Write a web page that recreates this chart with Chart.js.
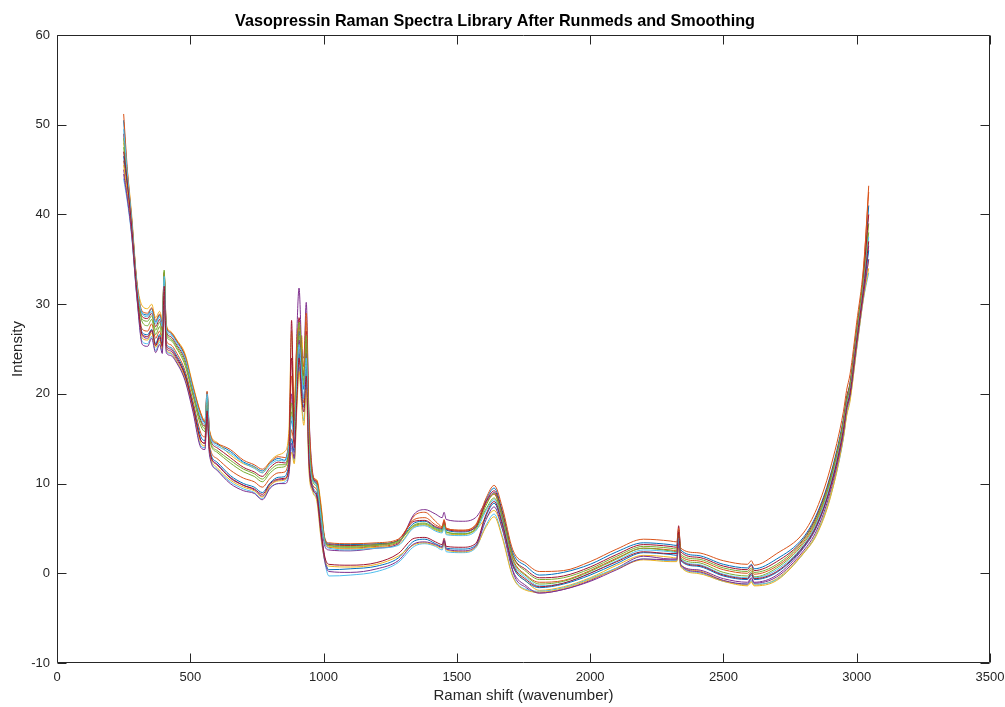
<!DOCTYPE html>
<html><head><meta charset="utf-8">
<script src="https://cdn.jsdelivr.net/npm/chart.js@4"></script>
<style>html,body{margin:0;padding:0;background:#fff}#wrap{width:1005px;height:707px}</style>
</head><body><div id="wrap"><canvas id="c" width="1005" height="707"></canvas></div>
<script>
const wavenumbers = [250,265,280,300,320,340,355,370,385,395,402,410,425,450,480,510,540,555,563,572,600,650,700,740,770,800,830,855,870,880,890,900,908,918,926,935,945,960,975,990,1005,1020,1100,1200,1280,1340,1380,1420,1445,1452,1460,1520,1570,1610,1640,1670,1710,1760,1810,1900,2000,2100,2200,2300,2325,2332,2340,2400,2500,2590,2605,2615,2700,2800,2850,2900,2950,2962,2975,3000,3025,3045];

const spec01 = [50.5,44,39.5,32.2,29,28.8,29.5,28,28.8,27.8,33.4,27.5,26.8,25.8,24.2,20.7,17.6,16.8,20.2,15.8,14.4,13.6,12.4,11.9,11.4,12.3,12.8,12.6,14.5,17,15.5,23,27,23,20.5,26,15,10.5,10,6.5,3.8,3.3,3.2,3.3,3.6,5.6,5.8,5.1,4.9,5.7,4.8,4.6,5.2,8.2,9.5,7.0,2.3,0.8,-0.2,0.1,1.0,2.4,3.4,3.2,3.1,4.8,2.6,2.0,1.0,0.6,1.0,0.5,1.6,4.0,6.6,10.8,17.2,19.5,21.2,27,32.8,41];
const spec02 = [46,42.5,38.4,31.2,27.2,27,27.8,26.2,27,26,32.2,26,25.5,24.5,22.6,19.2,15.6,15.2,18.8,14.3,12.8,11.5,10.6,10.2,9.6,10.6,11.2,11.3,12.8,16,14.5,21,25,21,19,24,13.5,9.8,9.3,5.8,3.4,2.9,2.8,3.0,3.4,6.4,6.8,5.8,5.2,6.0,5.0,4.8,5.3,7.8,8.8,6.2,1.6,-0.2,-1.0,-0.8,0.3,1.7,2.8,2.6,2.5,4.2,1.9,1.4,0.4,0.0,0.4,-0.1,0.8,3.5,6.0,10.2,16.8,19.0,20.8,26.8,33.5,43.2];
const spec03 = [48,44.5,40,32.5,29.8,29.5,30,28.5,29.2,28.4,33.2,27.8,27,26,24.5,21,17.8,17,19.6,16,14.6,13.2,12.2,11.8,11.2,12.5,13.2,13.6,16,27,19,25,24,26.5,22,28,17,10.8,10.4,7.8,3.6,3.0,2.7,2.9,3.2,5.2,5.4,4.8,4.6,5.3,4.4,4.3,4.8,6.2,7.0,5.0,0.8,-0.9,-1.9,-1.5,-0.5,0.9,2.0,1.8,1.7,3.6,1.0,0.3,-0.8,-1.3,-0.9,-1.3,-0.6,2.3,4.5,8.6,15.2,17.8,19.6,25.2,30.8,35];
const spec04 = [45,42,38,30.8,26.5,26.2,27,25.4,26.2,25.2,31.8,25.2,24.8,23.8,22,18.6,14.8,14.5,18.2,13.8,12.2,10.6,9.8,9.3,8.6,9.8,10.4,10.5,12,20,16,27,31.8,25,24,30.2,18,11,9.8,6.2,3.0,2.6,2.5,2.8,3.3,6.6,7.1,6.6,6.2,6.8,6.0,5.8,6.2,8.0,9.0,6.4,0.2,-1.6,-2.2,-1.8,-0.8,0.6,1.9,1.6,1.6,3.2,0.9,0.4,-0.6,-1.0,-0.5,-1.0,-0.2,2.8,5.2,9.6,16.4,19.2,20.5,26,31.5,36.5];
const spec05 = [47.5,43.5,39,31.8,28,27.6,28.3,26.6,27.5,26.4,33.8,26.6,26,25,23.2,19.8,16.4,15.8,19.2,15,13.5,12.3,11.3,10.8,10.2,11.2,11.8,11.9,13.5,18,16,22.5,26.5,23.5,21,25.5,14.5,10.2,9.6,6.2,3.5,3.1,2.9,3.1,3.5,5.4,5.6,5.0,4.8,5.5,4.6,4.4,5.0,7.2,8.4,6.0,1.4,-0.3,-1.2,-0.9,0.2,1.6,2.8,2.5,2.4,4.0,1.7,1.2,0.1,-0.3,0.2,-0.4,0.6,3.3,5.8,10.0,16.3,18.8,20.4,26.4,32.2,39];
const spec06 = [44,41.2,37.6,30.6,25.8,25.6,26.4,24.8,25.8,24.6,31.2,24.8,24.5,23.5,21.6,18.2,14.2,14.0,17.6,13.4,11.6,10.2,9.4,9.0,8.3,9.6,10.0,10.2,11.2,14,12.5,19,23,19,17,21,12,9.2,8.2,4.2,1.2,-0.3,-0.2,0.2,1.2,3.0,3.3,3.0,2.6,3.4,2.4,2.3,2.8,5.4,6.6,4.2,-0.3,-1.8,-2.0,-1.6,-0.6,0.6,1.6,1.4,1.4,3.0,0.8,0.1,-0.9,-1.2,-0.8,-1.2,-0.7,2.2,4.4,8.4,15,17.6,19.4,25,30.5,33.5];
const spec07 = [49,44,39.2,32,28.6,28.4,29,27.5,28.3,27.2,33,27,26.4,25.4,23.8,20.3,17,16.4,19.8,15.4,14,12.9,11.8,11.3,10.8,11.8,12.4,12.3,14,24,17,24,28.5,24,22,27,16,10.6,10.2,7,3.7,3.2,3.1,3.2,3.7,5.8,5.9,5.2,5.0,5.8,4.9,4.7,5.1,8.0,9.2,6.8,2.0,0.4,-0.5,-0.3,0.7,2.1,3.2,3.0,2.9,5.3,2.4,1.8,0.8,0.4,0.9,0.3,1.3,3.8,6.4,10.6,17,19.6,21.2,27.2,33,40];
const spec08 = [46.5,42.8,38.5,31.3,26.8,26.6,27.2,25.6,26.6,25.5,32.4,25.6,25.2,24.2,22.3,18.8,15.2,14.8,18.4,14,12.4,10.9,10,9.6,9.0,10.1,10.7,10.8,12.2,15,13.5,20,24.5,20,18.5,23,13,9.6,8.8,5.0,1.6,0.4,0.5,0.8,1.7,3.6,3.8,3.3,3.0,3.7,2.8,2.7,3.1,6.4,7.8,5.4,0.8,-0.9,-1.6,-1.2,-0.2,1.1,2.3,2.1,2.0,3.8,1.4,0.8,-0.3,-0.7,-0.2,-0.7,0.1,2.9,5.3,9.4,15.9,18.4,20,25.8,31.4,36];
const spec09 = [51.2,44.6,39.6,32.3,29.2,29,29.6,28.2,28.9,28,33.5,27.6,26.9,25.9,24.3,20.8,17.8,16.9,20.3,15.9,14.5,13.8,12.6,12.1,11.6,12.4,13,12.9,15,22,18,26,27.5,25,23,29,17.5,10.9,10.3,7.5,3.9,3.4,3.3,3.4,3.8,6.0,6.2,5.4,5.1,5.9,5.0,4.8,5.4,8.4,9.8,7.4,2.6,1.1,0.2,0.3,1.3,2.7,3.8,3.6,3.5,5.0,2.8,2.3,1.4,1.0,1.4,0.9,2.2,4.5,7.2,11.6,18,20.4,22.2,28,34,42.5];
const spec10 = [45.5,42.2,38.2,31,26.2,26,26.8,25.2,26,25,31.5,25,24.6,23.6,21.8,18.4,14.5,14.2,17.8,13.6,11.8,10.4,9.6,9.2,8.5,9.8,10.3,10.4,11.5,13.5,12.2,18.5,22.5,18.5,16.5,20.5,11.5,9.0,8.0,4.0,1.4,0.8,0.7,1.0,1.9,3.2,3.4,3.1,2.8,3.4,2.6,2.4,2.9,5.2,6.3,4.0,-0.4,-1.9,-2.1,-1.7,-0.7,0.5,1.5,1.3,1.3,2.8,0.7,0.0,-0.9,-1.4,-1.0,-1.4,-0.8,2.2,4.3,8.3,15.1,17.5,19.2,25.1,30.6,34];
const spec11 = [44.5,41.5,37.8,30.7,25.5,25.3,26.2,24.6,25.5,24.5,31,24.6,24.3,23.4,21.5,18,14.0,13.8,17.5,13.2,11.5,10.0,9.2,8.9,8.2,9.5,10,10,11,14.5,12.8,21,26,21,19.5,24.5,12.5,9.3,8.5,4.5,1.3,0.2,0.1,0.5,1.4,3.3,3.5,3.2,2.9,3.6,2.7,2.5,3.0,6.0,7.4,5.0,0.3,-1.4,-2.2,-1.8,-0.9,0.4,1.6,1.5,1.5,3.4,0.9,0.2,-0.8,-1.2,-0.6,-1.1,-0.4,2.5,4.8,9.0,15.6,18.2,19.8,25.5,31,35];
const spec12 = [48.5,43.8,39.1,31.9,28.3,28.1,28.7,27.1,28,26.9,33.6,26.9,26.2,25.2,23.5,20,16.8,16.1,19.5,15.2,13.7,12.6,11.6,11.1,10.5,11.5,12.1,12.1,13.8,19,16.5,23.5,28,24.5,21.5,26.5,15.5,10.4,9.9,6.8,3.6,3.1,3.0,3.2,3.6,5.3,5.5,4.9,4.7,5.4,4.6,4.4,4.9,7.6,8.9,6.5,1.9,0.2,-0.7,-0.5,0.5,1.9,3.0,2.8,2.7,4.4,2.1,1.6,0.6,0.2,0.6,0.1,1.0,3.7,6.2,10.4,16.9,19.3,21,26.9,32.6,38];
const spec13 = [49.5,44.2,39.4,32.1,28.9,28.6,29.2,27.8,28.6,27.5,33.1,27.2,26.6,25.6,24,20.5,17.3,16.6,20,15.6,14.2,13.4,12.3,11.7,11.2,12.1,12.6,12.5,14.2,17.5,15,21.5,25.5,22,19.5,24,14,10.3,9.8,6.4,3.4,2.8,2.6,2.8,3.1,5.1,5.3,4.7,4.5,5.2,4.3,4.2,4.7,7.0,8.2,5.8,1.2,-0.5,-1.4,-1.1,0.0,1.4,2.6,2.4,2.3,3.9,1.6,1.0,-0.1,-0.5,0.0,-0.5,0.4,3.1,5.6,9.8,16.2,18.7,20.3,26.2,31.9,37.5];
const spec14 = [47,43.2,38.7,31.4,26.6,26.4,27.1,25.4,26.4,25.3,32,25.4,25,24,22.1,18.6,14.8,14.5,18.1,13.8,12.1,10.7,9.8,9.4,8.8,10,10.5,10.6,11.8,28.2,14,19.5,24,19.5,18,22,12.8,9.4,8.6,4.8,1.8,1.0,0.9,1.2,2.2,3.9,4.0,3.5,3.2,3.9,3.0,2.9,3.3,6.6,8.0,5.6,1.0,-0.7,-1.5,-1.1,0.0,1.3,2.4,2.2,2.2,4.6,1.5,0.9,-0.2,-0.6,0.0,-0.6,0.2,3.0,5.4,9.5,16,18.5,20.1,26,31.6,37];

const spectra = [spec01,spec02,spec03,spec04,spec05,spec06,spec07,spec08,spec09,spec10,spec11,spec12,spec13,spec14];
const lineColors = ['#0072BD','#D95319','#EDB120','#7E2F8E','#77AC30','#4DBEEE','#A2142F'];
const xTickValues = [0,500,1000,1500,2000,2500,3000,3500];
const yTickValues = [-10,0,10,20,30,40,50,60];

const FONT = '"Liberation Sans", Arial, Helvetica, sans-serif';
const AXIS = '#262626';

const datasets = spectra.map((arr, k) => ({
  label: 'Spectrum ' + (k + 1),
  data: wavenumbers.map((w, i) => ({x: w, y: arr[i]})),
  borderColor: lineColors[k % lineColors.length],
  borderWidth: 1,
  pointRadius: 0,
  fill: false,
  cubicInterpolationMode: 'monotone',
  order: spectra.length - k
}));

const boxPlugin = {
  id: 'boxTicks',
  afterDatasetsDraw(chart) {
    const {ctx, chartArea: a, scales: {x, y}} = chart;
    const L = Math.round(a.left) + 0.5, R = Math.round(a.right) - 0.5;
    const T = Math.round(a.top) + 0.5, B = Math.round(a.bottom) - 0.5;
    ctx.save();
    ctx.strokeStyle = AXIS;
    ctx.lineWidth = 1;
    ctx.beginPath();
    ctx.rect(L, T, R - L, B - T);
    const tl = 9;
    xTickValues.forEach(v => {
      const p = Math.round(x.getPixelForValue(v)) + 0.5;
      ctx.moveTo(p, B); ctx.lineTo(p, B - tl);
      ctx.moveTo(p, T); ctx.lineTo(p, T + tl);
    });
    yTickValues.forEach(v => {
      const p = Math.round(y.getPixelForValue(v)) + 0.5;
      ctx.moveTo(L, p); ctx.lineTo(L + tl, p);
      ctx.moveTo(R, p); ctx.lineTo(R - tl, p);
    });
    ctx.stroke();
    ctx.restore();
  }
};

new Chart(document.getElementById('c'), {
  type: 'line',
  data: {datasets},
  plugins: [boxPlugin],
  options: {
    responsive: false,
    animation: false,
    devicePixelRatio: 1,
    layout: {padding: {left: 0, right: 15, top: 0, bottom: 0}},
    plugins: {
      legend: {display: false},
      tooltip: {enabled: false},
      title: {
        display: true,
        text: 'Vasopressin Raman Spectra Library After Runmeds and Smoothing',
        color: '#000',
        font: {family: FONT, size: 16.2, weight: 'bold'},
        padding: {top: 11.5, bottom: 4.1}
      }
    },
    scales: {
      x: {
        type: 'linear',
        min: 0, max: 3500,
        afterBuildTicks(scale) { scale.ticks = xTickValues.map(v => ({value: v})); },
        afterFit(scale) { scale.height = 44; scale.paddingLeft = 0; scale.paddingRight = 0; },
        grid: {display: false, drawTicks: false},
        border: {display: false},
        ticks: {color: AXIS, font: {family: FONT, size: 13}, padding: 7, maxRotation: 0, callback: v => String(v)},
        title: {display: true, text: 'Raman shift (wavenumber)', color: AXIS, font: {family: FONT, size: 15}, padding: {top: 0, bottom: 2}}
      },
      y: {
        type: 'linear',
        min: -10, max: 60,
        afterBuildTicks(scale) { scale.ticks = yTickValues.map(v => ({value: v})); },
        afterFit(scale) { scale.width = 57; scale.paddingTop = 0; scale.paddingBottom = 0; },
        grid: {display: false, drawTicks: false},
        border: {display: false},
        ticks: {color: AXIS, font: {family: FONT, size: 13}, padding: 7, callback: v => String(v)},
        title: {display: true, text: 'Intensity', color: AXIS, font: {family: FONT, size: 15}, padding: {top: 9, bottom: 0}}
      }
    }
  }
});
</script>
</body></html>
